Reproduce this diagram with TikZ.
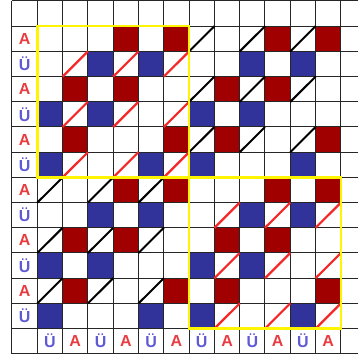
\documentclass[tikz,border=0pt]{standalone}
\usepackage{fontspec}
\setmainfont{Liberation Sans}
\definecolor{cellred}{RGB}{160,0,0}
\definecolor{cellblue}{RGB}{50,50,155}
\definecolor{labred}{RGB}{232,60,64}
\definecolor{labblue}{RGB}{95,90,210}
\definecolor{diagred}{RGB}{245,40,40}
\definecolor{boxyellow}{RGB}{255,245,0}
\tikzset{
  redcell/.style={fill=cellred},
  bluecell/.style={fill=cellblue},
  gridline/.style={draw=black!85, line width=1pt},
  diagR/.style={draw=diagred, line width=2.2pt},
  diagK/.style={draw=black, line width=2pt},
  ybox/.style={draw=boxyellow, line width=2.6pt},
  labfont/.style={font=\fontsize{16}{16}\selectfont\bfseries, inner sep=0pt},
  labA/.style={labfont, text=labred},
  labU/.style={labfont, text=labblue},
}
\begin{document}
\begin{tikzpicture}[x=25.3pt,y=-25.2pt]
\useasboundingbox (-0.4743,-0.0397) rectangle (13.676,14.087);
\clip (-0.4743,-0.0397) rectangle (13.676,14.087);
% coloured cells
\foreach \dx in {0,6} {
  \foreach \dy in {0,6} {
    \foreach \c/\r in {4/1,6/1,2/3,4/3,2/5,6/5}
      \fill[redcell] (\c+\dx,\r+\dy) rectangle ++(1,1);
    \foreach \c/\r in {3/2,5/2,1/4,3/4,1/6,5/6}
      \fill[bluecell] (\c+\dx,\r+\dy) rectangle ++(1,1);
  }
}
% grid
\foreach \k in {0,...,14} \draw[gridline] (0,\k) -- (14,\k);
\foreach \k in {0,...,13} \draw[gridline] (\k,0) -- (\k,14);
% red diagonals (diagonal blocks)
\foreach \d in {0,6} {
  \foreach \c in {2,4,6} {
    \foreach \r in {2,4,6}
      \draw[diagR] (\c+\d,\r+\d+1) -- (\c+\d+1,\r+\d);
  }
}
% black diagonals (off-diagonal blocks)
\foreach \dx/\dy in {6/0,0/6} {
  \foreach \c in {1,3,5} {
    \foreach \r in {1,3,5}
      \draw[diagK] (\c+\dx,\r+\dy+1) -- (\c+\dx+1,\r+\dy);
  }
}
% yellow frames
\draw[ybox] (1,1) rectangle (7,7);
\draw[ybox] (7,7) rectangle (13,13);
% labels
\foreach \r in {1,3,...,11} \node[labA] (row\r) at (0.5,\r+0.5) {A};
\foreach \r in {2,4,...,12} \node[labU] (row\r) at (0.5,\r+0.5) {Ü};
\foreach \c in {1,3,...,11} \node[labU] (col\c) at (\c+0.5,13.5) {Ü};
\foreach \c in {2,4,...,12} \node[labA] (col\c) at (\c+0.5,13.5) {A};
\end{tikzpicture}
\end{document}
